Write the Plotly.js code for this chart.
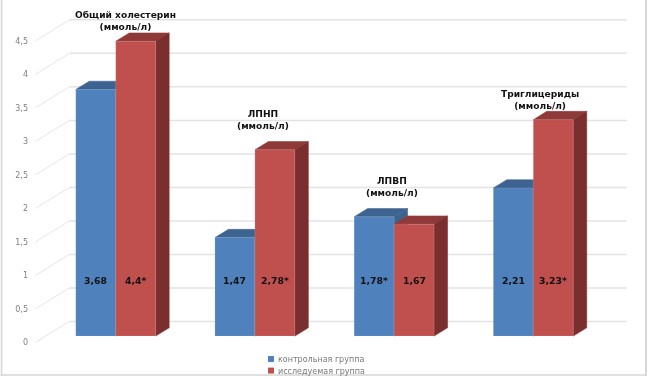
<!DOCTYPE html>
<html><head><meta charset="utf-8">
<script src="https://cdn.plot.ly/plotly-3.0.1.min.js"></script>
<style>html,body{margin:0;padding:0;background:#fff;overflow:hidden}#c{width:647px;height:377px;filter:blur(0.35px)}</style>
</head><body><div id="c"></div>
<script>
const categories = ["Общий холестерин<br>(ммоль/л)", "ЛПНП<br>(ммоль/л)", "ЛПВП<br>(ммоль/л)", "Триглицериды<br>(ммоль/л)"];
const seriesNames = ["контрольная группа", "исследуемая группа"];
const control = [3.68, 1.47, 1.78, 2.21];
const study = [4.4, 2.78, 1.67, 3.23];
const controlLabels = ["3,68", "1,47", "1,78*", "2,21"];
const studyLabels = ["4,4*", "2,78*", "1,67", "3,23*"];
const tickVals = [0, 0.5, 1, 1.5, 2, 2.5, 3, 3.5, 4, 4.5];
const tickText = ["0", "0,5", "1", "1,5", "2", "2,5", "3", "3,5", "4", "4,5"];

// geometry of the pseudo-3D projection
const W = 647, H = 377, ml = 28.5;
const pxPerCat = 139.3, firstCat = 115.3, pxPerUnit = 67.2;
const xOf = px => (px - firstCat) / pxPerCat;
const barW = 40 / pxPerCat, dX = 13.5 / pxPerCat, dY = 8.3 / pxPerUnit;
const wallRise = 21 / pxPerUnit, wallL = xOf(69), wallR = xOf(626.7), frontL = xOf(35);
const rangeFor = zeroPx => [-(H - zeroPx) / pxPerUnit, zeroPx / pxPerUnit];
const idx = control.map((_, i) => i);

// back wall
const gx = [], gy = [], sx = [], sy = [];
tickVals.forEach(t => {
  gx.push(wallL, wallR, null); gy.push(t + wallRise, t + wallRise, null);
  sx.push(frontL, wallL, null); sy.push(t, t + wallRise, null);
});
const wall = (x, y, color, width) => ({type:'scatter', mode:'lines', x, y, xaxis:'x', yaxis:'y',
  line:{color, width}, showlegend:false, hoverinfo:'skip', connectgaps:false});

function faces(vals, left, kind, color) {
  const x = [], y = [];
  vals.forEach((v, i) => {
    const x0 = i + left, x1 = x0 + barW;
    if (kind === 'top') {
      x.push(x0, x0 + dX, x1 + dX, x1, x0, null);
      y.push(v, v + dY, v + dY, v, v, null);
    } else {
      x.push(x1, x1 + dX, x1 + dX, x1, x1, null);
      y.push(0, dY, v + dY, v, 0, null);
    }
  });
  return {type:'scatter', mode:'lines', x, y, xaxis:'x', yaxis:'y2', fill:'toself', fillcolor:color,
    line:{color, width:0.5}, showlegend:false, hoverinfo:'skip'};
}
const bar = (name, vals, color) => ({type:'bar', name, x:idx, y:vals, xaxis:'x', yaxis:'y3',
  marker:{color, line:{color:'rgba(255,255,255,0.25)', width:0.5}}, hoverinfo:'skip'});

const traces = [
  wall(sx, sy, '#e6e6e6', 1), wall(gx, gy, '#e3e3e3', 1.5),
  faces(control, -barW, 'top', '#3d6391'), faces(control, -barW, 'side', '#3d6391'),
  faces(study, 0, 'top', '#8f3a38'), faces(study, 0, 'side', '#7a2f2e'),
  bar(seriesNames[0], control, '#4f81bd'), bar(seriesNames[1], study, '#c0504d')
];

const valueFont = {family:'DejaVu Sans', size:9.3, color:'#111'};
const anns = [];
idx.forEach(i => {
  anns.push({x:i - barW/2, y:0.83, xref:'x', yref:'y3', text:'<b>'+controlLabels[i]+'</b>', showarrow:false, font:valueFont});
  anns.push({x:i + barW/2, y:0.83, xref:'x', yref:'y3', text:'<b>'+studyLabels[i]+'</b>', showarrow:false, font:valueFont});
});
const catPos = [[125, 21], [263, 120.5], [391.5, 187], [540, 100]];
categories.forEach((c, i) => anns.push({
  x:xOf(catPos[i][0]), y:1 - catPos[i][1] / H, xref:'x', yref:'paper', xanchor:'center', yanchor:'middle',
  text:'<b>'+c+'</b>', showarrow:false,
  font:{family:'DejaVu Sans', size:9.1, color:'#111'}, align:'center'}));

const frameLine = {color:'#d6d6d6', width:1.5};
const px = p => (p - ml) / (W - ml);
const layout = {
  width:W, height:H, margin:{l:ml, r:0, t:0, b:0}, paper_bgcolor:'#fff', plot_bgcolor:'rgba(0,0,0,0)',
  barmode:'group', bargap:1 - 2*barW, bargroupgap:0, hovermode:false,
  xaxis:{type:'linear', range:[xOf(ml), xOf(W)], visible:false, fixedrange:true},
  yaxis:{range:rangeFor(343.3), tickvals:tickVals, ticktext:tickText, showgrid:false, zeroline:false, showline:false,
    ticks:'', tickfont:{family:'DejaVu Sans', size:8, color:'#808080'}, fixedrange:true},
  yaxis2:{range:rangeFor(337), overlaying:'y', visible:false, fixedrange:true},
  yaxis3:{range:rangeFor(337), overlaying:'y', visible:false, fixedrange:true},
  legend:{x:px(238), xanchor:'left', y:1 - 330/H, yanchor:'top', bgcolor:'rgba(0,0,0,0)', borderwidth:0, tracegroupgap:0,
    font:{family:'DejaVu Sans', size:8, color:'#7a7a7a'}},
  annotations:anns,
  shapes:[
    {type:'line', xref:'paper', yref:'paper', x0:px(1), x1:px(1), y0:0, y1:1, line:frameLine},
    {type:'line', xref:'paper', yref:'paper', x0:px(646), x1:px(646), y0:0, y1:1, line:{color:'#d6d6d6', width:2}},
    {type:'line', xref:'paper', yref:'paper', x0:px(0), x1:px(647), y0:1/H, y1:1/H, line:frameLine}
  ]
};
// native legend, tightened to the reference's compact layout
function tightenLegend() {
  const lg = document.querySelector('.legend');
  if (!lg) return;
  lg.setAttribute('transform', 'translate(238,349)');
  document.querySelectorAll('.legend .traces').forEach((g, i) => g.setAttribute('transform', 'translate(0,' + (10 + i * 11.6) + ')'));
  document.querySelectorAll('.legend .legendpoints path').forEach(p => p.setAttribute('transform', 'translate(33,0) scale(0.5)'));
}
const gd = document.getElementById('c');
Plotly.newPlot(gd, traces, layout, {displayModeBar:false, staticPlot:true}).then(() => {
  tightenLegend();
  gd.on('plotly_afterplot', tightenLegend);
});
</script></body></html>
